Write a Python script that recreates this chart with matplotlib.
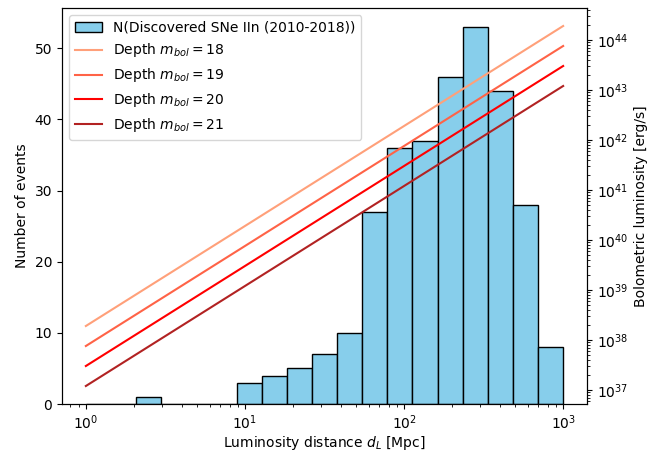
import numpy as np
import matplotlib
matplotlib.use("Agg")
import matplotlib.pyplot as plt

# Histogram: log-spaced bins from 1 to 1000 Mpc (19 bins)
bin_edges = np.logspace(0, 3, 20)
counts = [0, 0, 1, 0, 0, 0, 3, 4, 5, 7, 10, 27, 36, 37, 46, 53, 44, 28, 8]

# Depth lines
depths = [18, 19, 20, 21]
depth_colors = ["lightsalmon", "tomato", "red", "firebrick"]
d_line = np.logspace(0, 3, 50)  # Mpc
L0 = 3.0128e35  # erg/s, zero point of absolute bolometric magnitude

fig, ax = plt.subplots(figsize=(6.52, 4.5), dpi=100)
fig.subplots_adjust(left=62/652, right=587/652, bottom=1-404/450, top=1-8/450)
ax.set_xscale("log")
ax.hist(bin_edges[:-1], bins=bin_edges, weights=counts, color="skyblue",
        edgecolor="black", label="N(Discovered SNe IIn (2010-2018))")
ax.set_xlabel("Luminosity distance $d_L$ [Mpc]", labelpad=1.5)
ax.set_ylabel("Number of events")

ax2 = ax.twinx()
for m, c in zip(depths, depth_colors):
    M = m - 5 * np.log10(d_line * 1e6 / 10)
    L = L0 * 10 ** (-0.4 * M)
    ax2.plot(d_line, L, color=c, label=f"Depth $m_{{bol}}={m}$")
ax2.set_yscale("log")
ax2.set_ylabel("Bolometric luminosity [erg/s]")

h1, l1 = ax.get_legend_handles_labels()
h2, l2 = ax2.get_legend_handles_labels()
ax2.legend(h1 + h2, l1 + l2, loc="upper left")

fig.savefig("out.png", dpi=100)
